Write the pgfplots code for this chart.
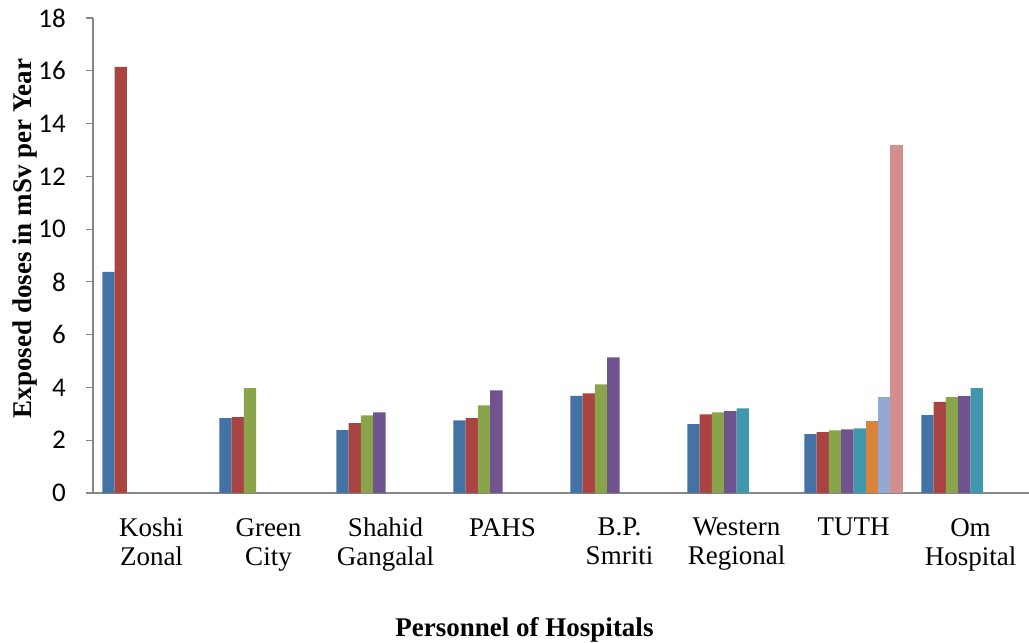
\documentclass[border=0pt]{standalone}
\usepackage{fontspec}
\setmainfont{Liberation Serif}
\newfontfamily\carlito{Carlito}
\usepackage{pgfplots}
\pgfplotsset{compat=1.18}
\definecolor{axisgray}{RGB}{135,135,135}
\definecolor{cA}{RGB}{68,114,165}
\definecolor{cB}{RGB}{169,68,66}
\definecolor{cC}{RGB}{138,164,75}
\definecolor{cD}{RGB}{112,84,144}
\definecolor{cE}{RGB}{64,151,174}
\definecolor{cF}{RGB}{218,131,59}
\definecolor{cG}{RGB}{149,168,209}
\definecolor{cH}{RGB}{212,142,142}
\begin{document}
\begin{tikzpicture}
\useasboundingbox (0,0) rectangle (1029pt,643pt);
\begin{axis}[
  at={(93pt,150pt)}, anchor=south west,
  scale only axis, width=936pt, height=475pt,
  xmin=-0.5, xmax=7.5, ymin=0, ymax=18,
  axis lines*=left,
  axis line style={draw=axisgray, line width=1.5pt},
  ybar, bar width=0.105,
  xtick={0,...,7},
  xticklabels={{Koshi\\Zonal},{Green\\City},{Shahid\\Gangalal},{PAHS},{B.P.\\Smriti},{Western\\Regional},{TUTH},{Om\\Hospital}},
  xtick style={draw=none},
  xticklabel style={align=center, font=\fontsize{27}{29}\selectfont, anchor=north, inner sep=0pt, yshift=-18pt},
  ytick={0,2,...,18},
  tick align=outside,
  major tick length=7pt,
  ytick style={draw=axisgray, line width=1.2pt},
  yticklabel style={font=\carlito\fontsize{27}{30}\selectfont, anchor=east, inner sep=0pt, xshift=-20pt},
  /pgf/number format/assume math mode=true,
  ylabel={\bfseries Exposed doses in mSv per Year},
  ylabel style={font=\fontsize{27}{30}\selectfont, at={(axis description cs:-0.0652,0.536)}, anchor=base, rotate=0},
  xlabel={\bfseries Personnel of Hospitals},
  xlabel style={font=\fontsize{27}{30}\selectfont, at={(axis description cs:0.461,-0.303)}, anchor=base},
  every axis plot/.append style={draw=none},
]
\addplot[fill=cA, bar shift=-0.3675] coordinates {(0,8.38) (1,2.84) (2,2.38) (3,2.75) (4,3.68) (5,2.61) (6,2.23) (7,2.95)};
\addplot[fill=cB, bar shift=-0.2625] coordinates {(0,16.15) (1,2.88) (2,2.65) (3,2.84) (4,3.78) (5,2.98) (6,2.31) (7,3.45)};
\addplot[fill=cC, bar shift=-0.1575] coordinates {(1,3.97) (2,2.94) (3,3.32) (4,4.12) (5,3.06) (6,2.37) (7,3.63)};
\addplot[fill=cD, bar shift=-0.0525] coordinates {(2,3.06) (3,3.89) (4,5.14) (5,3.10) (6,2.41) (7,3.67)};
\addplot[fill=cE, bar shift=0.0525] coordinates {(5,3.21) (6,2.45) (7,3.97)};
\addplot[fill=cF, bar shift=0.1575] coordinates {(6,2.72)};
\addplot[fill=cG, bar shift=0.2625] coordinates {(6,3.63)};
\addplot[fill=cH, bar shift=0.3675] coordinates {(6,13.2)};
\end{axis}
\end{tikzpicture}
\end{document}
